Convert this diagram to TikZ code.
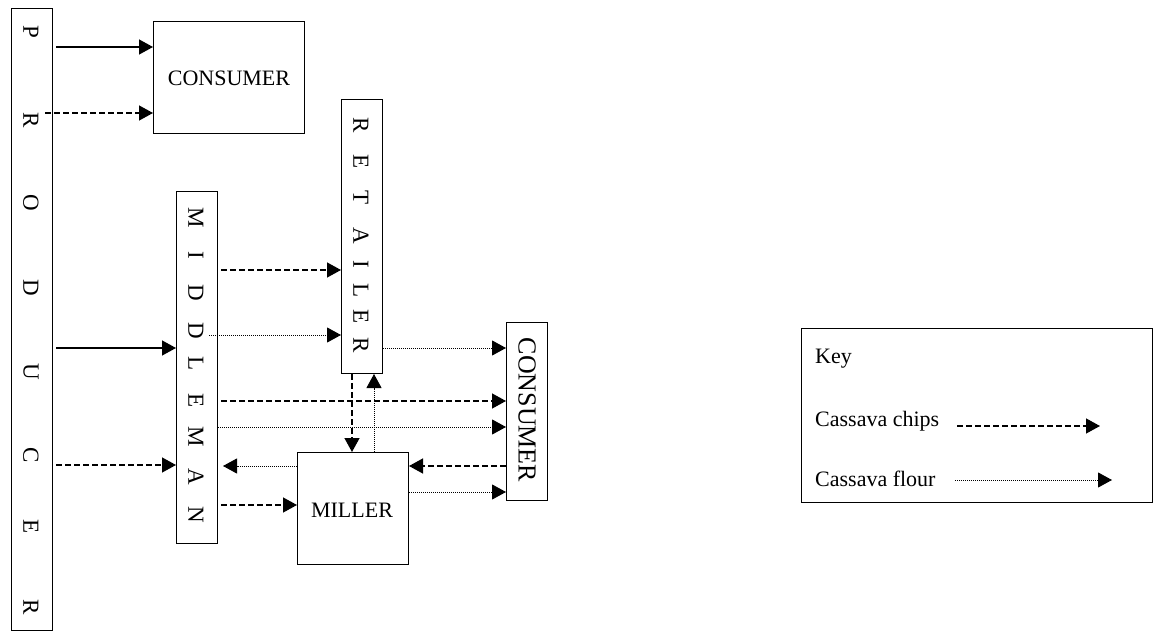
\documentclass[tikz,border=0pt]{standalone}
\usepackage{fontspec}
\setmainfont{Liberation Serif}
\usetikzlibrary{arrows.meta,calc}
\begin{document}
\begin{tikzpicture}[x=1pt,y=-1pt,
  box/.style={draw, line width=1pt, inner sep=0pt, anchor=north west},
  letter/.style={rotate=-90, inner sep=0pt, font=\fontsize{23}{23}\selectfont},
  label/.style={inner sep=0pt, font=\fontsize{22}{26}\selectfont},
  tip/.style={-{Triangle[length=14pt,width=15pt]}},
  solidarr/.style={tip, line width=1.3pt},
  dasharr/.style={tip, line width=1.3pt, dash pattern=on 6pt off 3pt},
  dotarr/.style={tip, line width=0.9pt, dash pattern=on 1pt off 1pt}]
\useasboundingbox (0,0) rectangle (1157,631);
% boxes
\node[box, minimum width=41pt, minimum height=622pt] (prod) at (11,8) {};
\node[box, minimum width=151pt, minimum height=112pt] (cons1) at (153,21) {};
\node[box, minimum width=41pt, minimum height=352pt] (mid) at (176,191) {};
\node[box, minimum width=41pt, minimum height=274pt] (ret) at (341,99) {};
\node[box, minimum width=41pt, minimum height=178pt] (cons2) at (506,322) {};
\node[box, minimum width=111pt, minimum height=112pt] (mill) at (297,452) {};
\node[box, minimum width=351pt, minimum height=174pt] (key) at (801,328) {};
% producer letters
\node[letter] (p1) at (31,32) {P};
\node[letter] (p2) at (31,120) {R};
\node[letter] (p3) at (31,203) {O};
\node[letter] (p4) at (31,288) {D};
\node[letter] (p5) at (31,372) {U};
\node[letter] (p6) at (31,455) {C};
\node[letter] (p7) at (31,527) {E};
\node[letter] (p8) at (31,607) {R};
% middleman letters
\node[letter] (m1) at (196,218) {M};
\node[letter] (m2) at (196,255) {I};
\node[letter] (m3) at (196,293) {D};
\node[letter] (m4) at (196,331) {D};
\node[letter] (m5) at (196,364) {L};
\node[letter] (m6) at (196,401) {E};
\node[letter] (m7) at (196,437) {M};
\node[letter] (m8) at (196,477) {A};
\node[letter] (m9) at (196,515) {N};
% retailer letters
\node[letter] (r1) at (361,125) {R};
\node[letter] (r2) at (361,162) {E};
\node[letter] (r3) at (361,198) {T};
\node[letter] (r4) at (361,236) {A};
\node[letter] (r5) at (361,264) {I};
\node[letter] (r6) at (361,291) {L};
\node[letter] (r7) at (361,317) {E};
\node[letter] (r8) at (361,345) {R};
% other labels
\node[label, anchor=base] (c1t) at (229,86) {CONSUMER};
\node[label, anchor=base] (mlt) at (352,517) {MILLER};
\node[inner sep=0pt, rotate=-90, font=\fontsize{26}{26}\selectfont] (c2t) at (527,410) {CONSUMER};
% arrows
\draw[solidarr] ($(prod.east|-0,47)+(3,0)$) -- (cons1.west|-0,47);
\draw[dasharr] ($(prod.east|-0,113)+(-8,0)$) -- (cons1.west|-0,113);
\draw[solidarr] ($(prod.east|-0,348)+(3,0)$) -- (mid.west|-0,348);
\draw[dasharr] ($(prod.east|-0,465)+(3,0)$) -- (mid.west|-0,465);
\draw[dasharr] ($(mid.east|-0,270)+(3,0)$) -- (ret.west|-0,270);
\draw[dotarr] ($(mid.east|-0,335)+(-9,0)$) -- (ret.west|-0,335);
\draw[dotarr] (ret.east|-0,348) -- (cons2.west|-0,348);
\draw[dasharr] ($(mid.east|-0,401)+(3,0)$) -- (cons2.west|-0,401);
\draw[dotarr] (mid.east|-0,427) -- (cons2.west|-0,427);
\draw[dasharr] (ret.south-|352,0) -- (mill.north-|352,0);
\draw[dotarr] (mill.north-|374,0) -- (ret.south-|374,0);
\draw[dotarr, shorten >=5pt] (mill.west|-0,466) -- (mid.east|-0,466);
\draw[dasharr] (cons2.west|-0,466) -- (mill.east|-0,466);
\draw[dasharr] ($(mid.east|-0,505)+(3,0)$) -- (mill.west|-0,505);
\draw[dotarr] (mill.east|-0,492) -- (cons2.west|-0,492);
% key
\node[label, anchor=base west] (kt) at (815,363) {Key};
\node[label, anchor=base west] (k1) at (815,426) {Cassava chips};
\node[label, anchor=base west] (k2) at (815,486) {Cassava flour};
\coordinate (k1a) at (957,426);
\coordinate (k1b) at (1100,426);
\coordinate (k2a) at (955,480);
\coordinate (k2b) at (1112,480);
\draw[dasharr] (k1a) -- (k1b);
\draw[dotarr] (k2a) -- (k2b);
\end{tikzpicture}
\end{document}
